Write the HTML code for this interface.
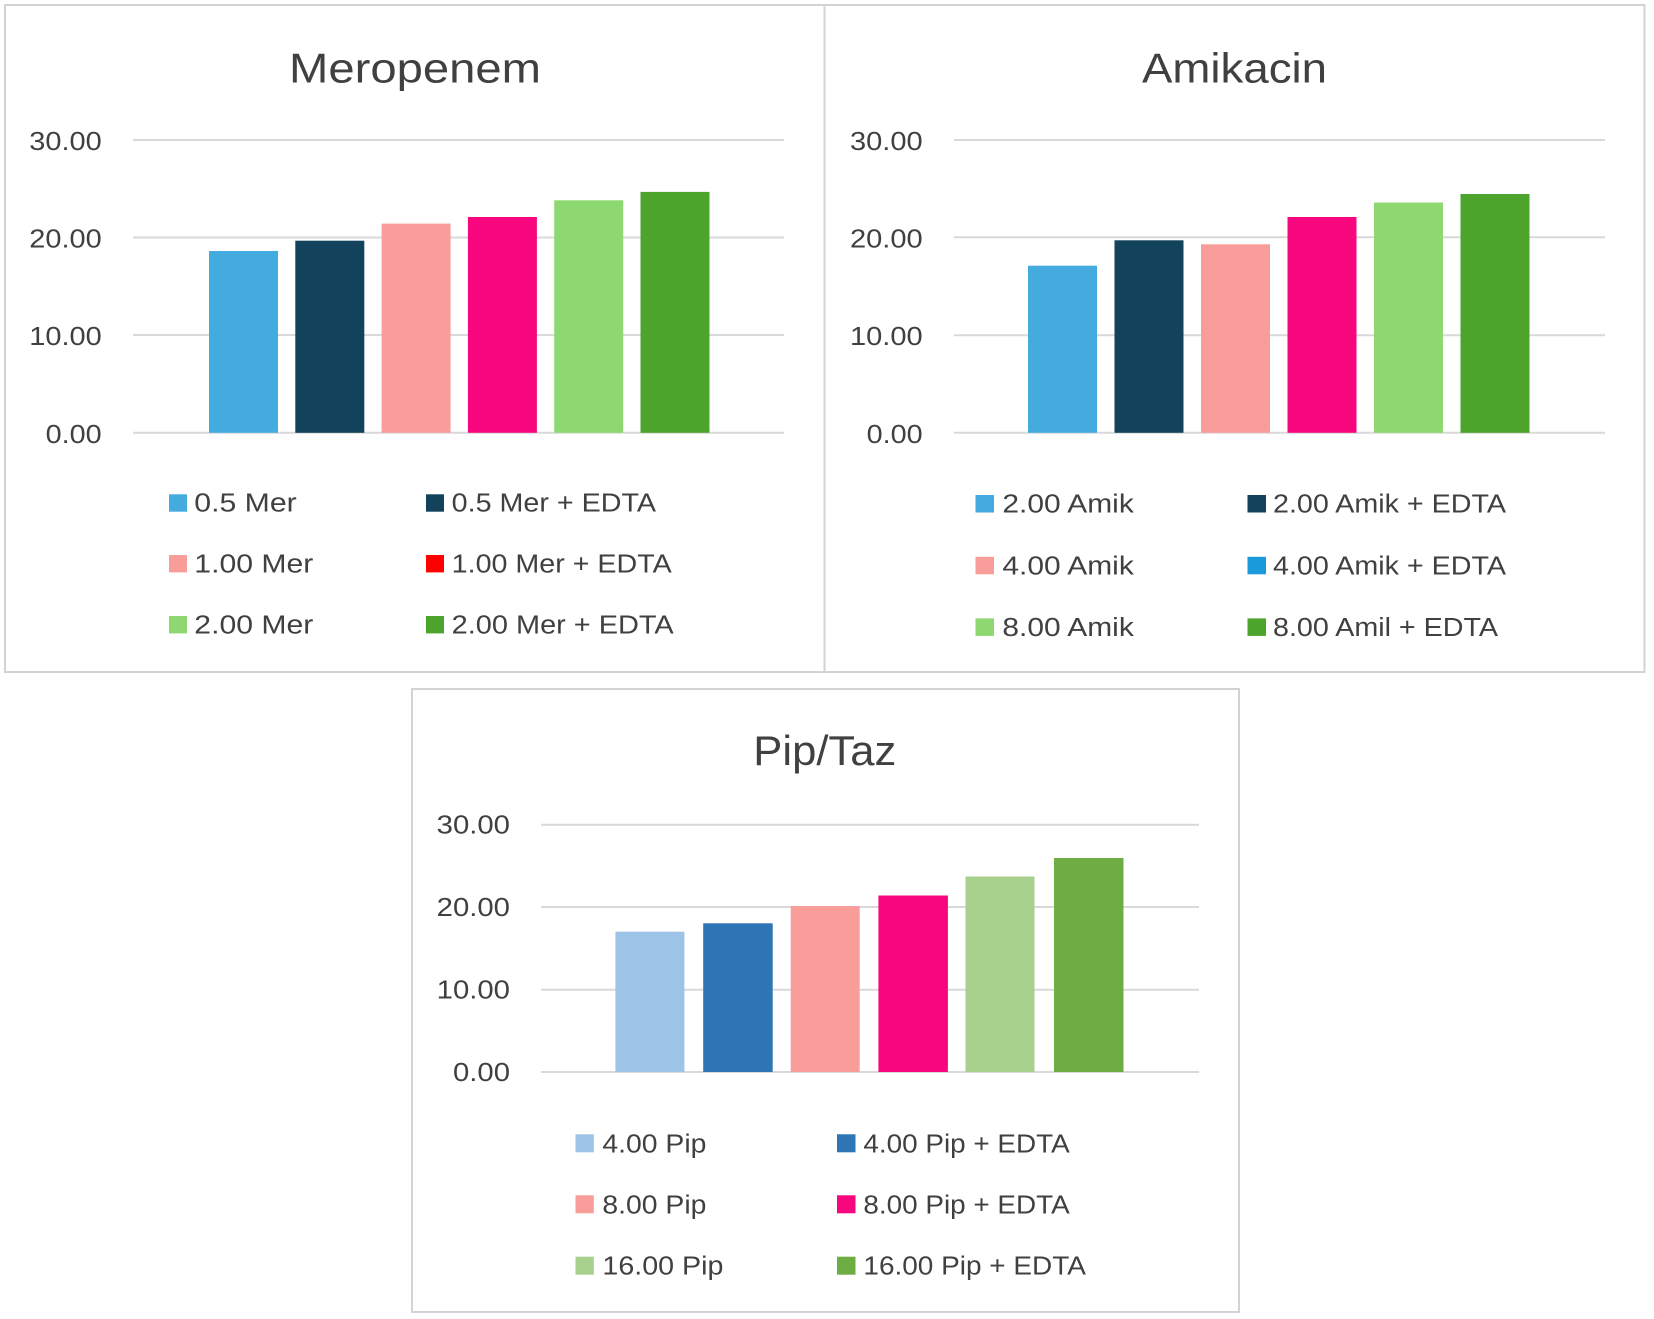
<!DOCTYPE html>
<html>
<head>
<meta charset="utf-8">
<style>
  html, body { margin:0; padding:0; background:#ffffff; }
  body { width:1654px; height:1319px; overflow:hidden; }
  svg { display:block; }
  text { font-family:"Liberation Sans", "DejaVu Sans", sans-serif; fill:#404040; }
  .title { font-size:42px; }
  .tick { font-size:26px; }
  .leg { font-size:25.5px; }
</style>
</head>
<body>
<svg width="1654" height="1319" viewBox="0 0 1654 1319" xmlns="http://www.w3.org/2000/svg">
  <rect x="0" y="0" width="1654" height="1319" fill="#ffffff"/>

  <!-- Panel borders -->
  <rect x="5" y="5" width="819.5" height="667" fill="none" stroke="#d3d3d3" stroke-width="2"/>
  <rect x="824.5" y="5" width="820" height="667" fill="none" stroke="#d3d3d3" stroke-width="2"/>
  <rect x="412" y="689" width="827" height="623" fill="none" stroke="#d3d3d3" stroke-width="2"/>

  <!-- ================= MEROPENEM ================= -->
  <text class="title" x="289" y="82.7" textLength="252" lengthAdjust="spacingAndGlyphs">Meropenem</text>
  <g stroke="#d9d9d9" stroke-width="2">
    <line x1="133" y1="140" x2="784" y2="140"/>
    <line x1="133" y1="237.5" x2="784" y2="237.5"/>
    <line x1="133" y1="335" x2="784" y2="335"/>
    <line x1="133" y1="432.8" x2="784" y2="432.8"/>
  </g>
  <text class="tick" x="101.7" y="150" text-anchor="end" textLength="72.4" lengthAdjust="spacingAndGlyphs">30.00</text>
  <text class="tick" x="101.7" y="247.5" text-anchor="end" textLength="72.4" lengthAdjust="spacingAndGlyphs">20.00</text>
  <text class="tick" x="101.7" y="345" text-anchor="end" textLength="72.4" lengthAdjust="spacingAndGlyphs">10.00</text>
  <text class="tick" x="101.7" y="442.8" text-anchor="end" textLength="56" lengthAdjust="spacingAndGlyphs">0.00</text>

  <rect x="209" y="251" width="69" height="181.8" fill="#43abde"/>
  <rect x="295.3" y="240.7" width="69" height="192.1" fill="#13425c"/>
  <rect x="381.6" y="223.6" width="69" height="209.2" fill="#f99d9b"/>
  <rect x="467.9" y="217" width="69" height="215.8" fill="#f7067d"/>
  <rect x="554.2" y="200.3" width="69" height="232.5" fill="#8ed872"/>
  <rect x="640.5" y="191.9" width="69" height="240.9" fill="#4ca42c"/>

  <!-- legend -->
  <rect x="169" y="494.3" width="18" height="17.4" fill="#43abde"/>
  <text class="leg" x="194.3" y="511.5" textLength="102.4" lengthAdjust="spacingAndGlyphs">0.5 Mer</text>
  <rect x="426" y="494.3" width="18" height="17.4" fill="#13425c"/>
  <text class="leg" x="451.7" y="511.5" textLength="204.3" lengthAdjust="spacingAndGlyphs">0.5 Mer + EDTA</text>

  <rect x="169" y="555" width="18" height="17.4" fill="#f99d9b"/>
  <text class="leg" x="194.3" y="572.3" textLength="119" lengthAdjust="spacingAndGlyphs">1.00 Mer</text>
  <rect x="426" y="555" width="18" height="17.4" fill="#ff0000"/>
  <text class="leg" x="451.7" y="572.3" textLength="220" lengthAdjust="spacingAndGlyphs">1.00 Mer + EDTA</text>

  <rect x="169" y="616" width="18" height="17.4" fill="#8ed872"/>
  <text class="leg" x="194.3" y="633.4" textLength="119" lengthAdjust="spacingAndGlyphs">2.00 Mer</text>
  <rect x="426" y="616" width="18" height="17.4" fill="#4ca42c"/>
  <text class="leg" x="451.7" y="633.4" textLength="222" lengthAdjust="spacingAndGlyphs">2.00 Mer + EDTA</text>

  <!-- ================= AMIKACIN ================= -->
  <text class="title" x="1142" y="82.7" textLength="185" lengthAdjust="spacingAndGlyphs">Amikacin</text>
  <g stroke="#d9d9d9" stroke-width="2">
    <line x1="954" y1="140" x2="1605" y2="140"/>
    <line x1="954" y1="237.3" x2="1605" y2="237.3"/>
    <line x1="954" y1="335.2" x2="1605" y2="335.2"/>
    <line x1="954" y1="432.8" x2="1605" y2="432.8"/>
  </g>
  <text class="tick" x="922.7" y="150" text-anchor="end" textLength="72.7" lengthAdjust="spacingAndGlyphs">30.00</text>
  <text class="tick" x="922.7" y="247.3" text-anchor="end" textLength="72.7" lengthAdjust="spacingAndGlyphs">20.00</text>
  <text class="tick" x="922.7" y="345.2" text-anchor="end" textLength="72.7" lengthAdjust="spacingAndGlyphs">10.00</text>
  <text class="tick" x="922.7" y="442.8" text-anchor="end" textLength="56" lengthAdjust="spacingAndGlyphs">0.00</text>

  <rect x="1028" y="265.7" width="69" height="167.1" fill="#43abde"/>
  <rect x="1114.5" y="240.3" width="69" height="192.5" fill="#13425c"/>
  <rect x="1201" y="244.3" width="69" height="188.5" fill="#f99d9b"/>
  <rect x="1287.5" y="217" width="69" height="215.8" fill="#f7067d"/>
  <rect x="1374" y="202.5" width="69" height="230.3" fill="#8ed872"/>
  <rect x="1460.5" y="194" width="69" height="238.8" fill="#4ca42c"/>

  <!-- legend -->
  <rect x="975.5" y="495" width="18.5" height="17.5" fill="#43abde"/>
  <text class="leg" x="1002.4" y="512.4" textLength="131.4" lengthAdjust="spacingAndGlyphs">2.00 Amik</text>
  <rect x="1247.5" y="495" width="18.5" height="17.5" fill="#13425c"/>
  <text class="leg" x="1273" y="512.4" textLength="233" lengthAdjust="spacingAndGlyphs">2.00 Amik + EDTA</text>

  <rect x="975.5" y="556.8" width="18.5" height="17.5" fill="#f99d9b"/>
  <text class="leg" x="1002.4" y="574.3" textLength="131.4" lengthAdjust="spacingAndGlyphs">4.00 Amik</text>
  <rect x="1247.5" y="556.8" width="18.5" height="17.5" fill="#1a9adb"/>
  <text class="leg" x="1273" y="574.3" textLength="233" lengthAdjust="spacingAndGlyphs">4.00 Amik + EDTA</text>

  <rect x="975.5" y="618.4" width="18.5" height="17.5" fill="#8ed872"/>
  <text class="leg" x="1002.4" y="635.9" textLength="131.4" lengthAdjust="spacingAndGlyphs">8.00 Amik</text>
  <rect x="1247.5" y="618.4" width="18.5" height="17.5" fill="#4ca42c"/>
  <text class="leg" x="1273" y="635.9" textLength="225" lengthAdjust="spacingAndGlyphs">8.00 Amil + EDTA</text>

  <!-- ================= PIP/TAZ ================= -->
  <text class="title" x="753.3" y="765" textLength="143" lengthAdjust="spacingAndGlyphs">Pip/Taz</text>
  <g stroke="#d9d9d9" stroke-width="2">
    <line x1="541" y1="824.7" x2="1199" y2="824.7"/>
    <line x1="541" y1="907" x2="1199" y2="907"/>
    <line x1="541" y1="989.7" x2="1199" y2="989.7"/>
    <line x1="541" y1="1072" x2="1199" y2="1072"/>
  </g>
  <text class="tick" x="510" y="833.5" text-anchor="end" textLength="73.3" lengthAdjust="spacingAndGlyphs">30.00</text>
  <text class="tick" x="510" y="915.8" text-anchor="end" textLength="73.3" lengthAdjust="spacingAndGlyphs">20.00</text>
  <text class="tick" x="510" y="998.5" text-anchor="end" textLength="73.3" lengthAdjust="spacingAndGlyphs">10.00</text>
  <text class="tick" x="510" y="1080.8" text-anchor="end" textLength="57" lengthAdjust="spacingAndGlyphs">0.00</text>

  <rect x="615.4" y="931.7" width="69" height="140.3" fill="#9dc3e6"/>
  <rect x="703.2" y="923.3" width="69.5" height="148.7" fill="#2e75b6"/>
  <rect x="790.7" y="906" width="69" height="166" fill="#f99d9b"/>
  <rect x="878.4" y="895.5" width="69.5" height="176.5" fill="#f7067d"/>
  <rect x="965.5" y="876.5" width="69" height="195.5" fill="#a8d08d"/>
  <rect x="1054" y="858" width="69.5" height="214" fill="#6dad44"/>

  <!-- legend -->
  <rect x="575.5" y="1134.3" width="18.3" height="18" fill="#9dc3e6"/>
  <text class="leg" x="602.4" y="1152.3" textLength="104" lengthAdjust="spacingAndGlyphs">4.00 Pip</text>
  <rect x="837" y="1134.3" width="18.5" height="18" fill="#2e75b6"/>
  <text class="leg" x="863.4" y="1152.3" textLength="206.3" lengthAdjust="spacingAndGlyphs">4.00 Pip + EDTA</text>

  <rect x="575.5" y="1195.3" width="18.3" height="18" fill="#f99d9b"/>
  <text class="leg" x="602.4" y="1213.3" textLength="104" lengthAdjust="spacingAndGlyphs">8.00 Pip</text>
  <rect x="837" y="1195.3" width="18.5" height="18" fill="#f7067d"/>
  <text class="leg" x="863.4" y="1213.3" textLength="206.3" lengthAdjust="spacingAndGlyphs">8.00 Pip + EDTA</text>

  <rect x="575.5" y="1256.7" width="18.3" height="18" fill="#a8d08d"/>
  <text class="leg" x="602.4" y="1274.7" textLength="121" lengthAdjust="spacingAndGlyphs">16.00 Pip</text>
  <rect x="837" y="1256.7" width="18.5" height="18" fill="#6dad44"/>
  <text class="leg" x="863.4" y="1274.7" textLength="222.5" lengthAdjust="spacingAndGlyphs">16.00 Pip + EDTA</text>
</svg>
</body>
</html>
